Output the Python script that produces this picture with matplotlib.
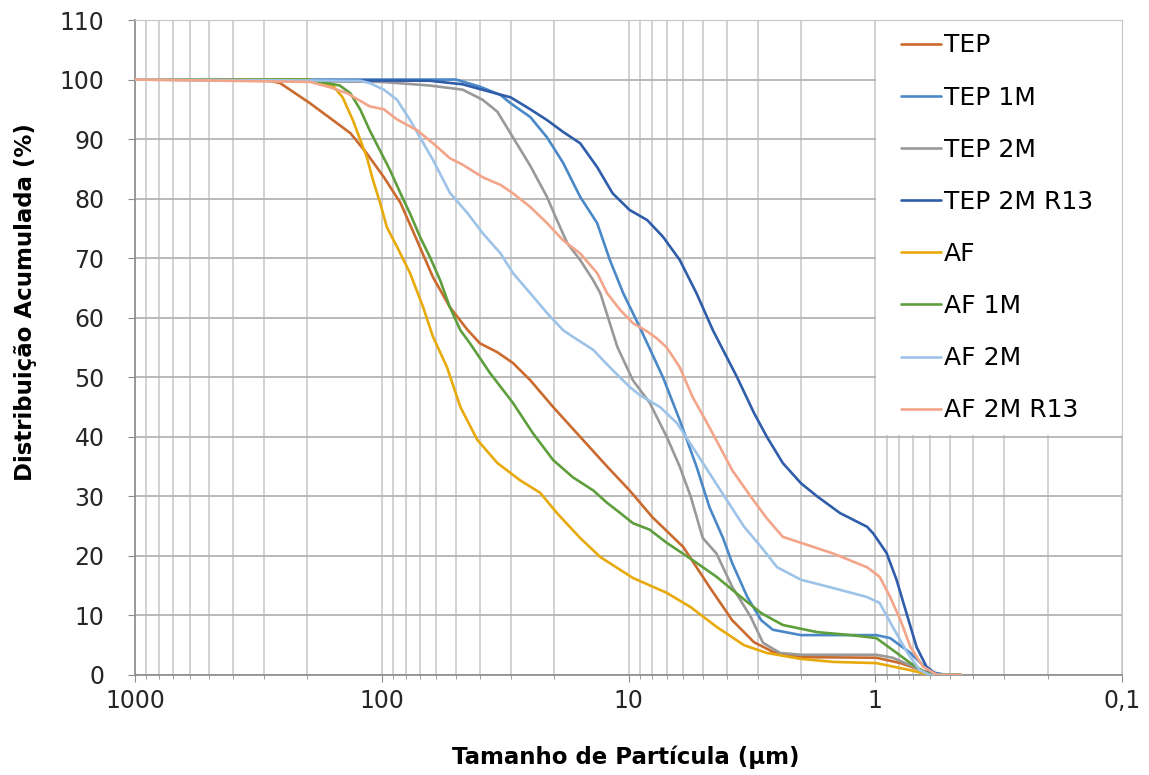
import matplotlib.pyplot as plt
from matplotlib.patches import Rectangle
from matplotlib.ticker import FixedLocator, LogLocator, NullFormatter

# tamanho de partícula (µm) e distribuição acumulada (%) de cada amostra
tep_x = [1000, 300, 258, 195, 158, 134, 115, 98, 84, 72, 62, 53, 45, 40, 34, 29.4, 25, 20.2,
         15.7, 12.2, 9.9, 8.0, 6.0, 4.7, 3.8, 3.1, 2.6, 2.0, 0.99, 0.79, 0.6, 0.51, 0.45]
tep_y = [100, 100, 99.4, 96, 93.2, 91, 87.6, 83.6, 79.3, 73, 66.8, 61.8, 58, 55.7, 54.2, 52.4,
         49.5, 45, 40, 35, 31, 26.5, 21.5, 14.8, 9.2, 5.5, 3.9, 3.0, 2.9, 2.0, 0.3, 0, 0]

tep1m_x = [1000, 50, 40, 33, 30, 25, 21.4, 18.4, 15.7, 13.4, 11.9, 10.5, 9, 7.25, 6.2, 5.3,
           4.7, 4.14, 3.8, 3.3, 2.9, 2.6, 2.0, 0.99, 0.87, 0.72, 0.6, 0.51, 0.45]
tep1m_y = [100, 100, 98.8, 97.4, 96, 93.7, 90.3, 86, 80.3, 75.9, 69.7, 64.1, 58.4, 50, 42.8,
           35, 28.2, 23, 18.8, 13.1, 9.2, 7.6, 6.7, 6.7, 6.2, 3.7, 0.5, 0, 0]

tep2m_x = [1000, 100, 64, 47, 39, 34, 29.4, 25, 21.4, 19.5, 17.7, 15.7, 13.9, 13, 11.1, 9.6,
           8.2, 7.0, 6.2, 5.6, 5.0, 4.4, 3.8, 3.2, 2.85, 2.43, 2.0, 0.99, 0.85, 0.70, 0.6, 0.45]
tep2m_y = [100, 99.6, 99, 98.3, 96.6, 94.6, 90.3, 85.5, 80.3, 76.4, 72.5, 69.7, 66.3, 64.1,
           55.1, 49.5, 45.7, 40, 35, 30, 23, 20.4, 14.8, 9.8, 5.4, 3.7, 3.4, 3.4, 2.9, 1.4, 0, 0]

tep2mr_x = [1000, 64, 47, 40, 30, 25, 21.4, 18.4, 15.7, 13.4, 11.6, 9.9, 8.4, 7.25, 6.2, 5.3,
            4.55, 3.63, 3.1, 2.75, 2.37, 2.0, 1.72, 1.39, 1.08, 1.02, 0.90, 0.82, 0.74, 0.68,
            0.62, 0.56, 0.45]
tep2mr_y = [100, 99.8, 99.2, 98.4, 97, 95, 93.2, 91.2, 89.3, 85.3, 80.9, 78.1, 76.4, 73.6,
            69.7, 64.1, 57.9, 50, 44, 40, 35.6, 32.2, 30, 27.2, 24.9, 23.8, 20.5, 16, 9.8, 4.7,
            1.4, 0, 0]

af_x = [1000, 200, 158, 144, 131, 122, 115, 108.5, 101.6, 95.3, 86.7, 76.8, 68, 62, 54.4, 48,
        41, 34, 27.5, 22.8, 19.5, 15.7, 13, 9.6, 7.0, 5.6, 4.4, 3.4, 2.75, 2.0, 1.48, 0.99,
        0.72, 0.6, 0.45]
af_y = [100, 100, 99, 97, 93.2, 89.8, 87, 83.1, 79.3, 75.2, 71.9, 67.5, 61.8, 56.8, 51.7, 45,
        39.5, 35.6, 32.7, 30.6, 27.2, 23, 19.8, 16.3, 13.8, 11.4, 8.1, 5, 3.7, 2.7, 2.2, 2.0,
        0.8, 0, 0]

af1m_x = [1000, 200, 148, 134, 122, 112, 102, 92.6, 84, 77, 70, 63.8, 58, 53, 48, 43.9, 36.4,
          29.4, 24.4, 20.2, 16.8, 13.9, 12.2, 10.8, 9.6, 8.2, 7.0, 5.5, 4.4, 3.5, 2.9, 2.37,
          1.72, 1.26, 0.99, 0.85, 0.72, 0.62, 0.55, 0.45]
af1m_y = [100, 100, 99, 97.7, 94.9, 91.5, 88.2, 84.8, 80.9, 77.6, 73.6, 70.2, 66.3, 61.8,
          57.9, 55.7, 50.7, 45.7, 40.6, 36.1, 33.2, 31, 28.9, 27.2, 25.5, 24.4, 22.2, 19.3,
          16.5, 13.1, 10.4, 8.4, 7.2, 6.7, 6.2, 4.2, 2.0, 0.3, 0, 0]

af2m_x = [1000, 122, 112, 98, 86.7, 76.8, 70, 62, 53, 45, 39, 33, 29.4, 25, 21.4, 18.4, 16.8,
          13.9, 11.6, 9.9, 9, 7.45, 6.36, 5.5, 4.7, 4.0, 3.4, 2.9, 2.5, 2.0, 1.48, 1.08, 0.96,
          0.85, 0.74, 0.66, 0.6, 0.45]
af2m_y = [100, 99.8, 99.4, 98.3, 96.6, 93.2, 90.3, 86.5, 81, 77.6, 74.2, 70.8, 67.5, 64.1,
          60.8, 57.9, 56.8, 54.6, 51.2, 48.4, 47, 45, 42.3, 38.3, 33.9, 29.4, 24.9, 21.5, 18.1,
          16, 14.6, 13.1, 12.1, 8.1, 3.7, 0.8, 0, 0]

af2mr_x = [1000, 195, 162, 138, 112, 98, 86.7, 72, 62, 53, 47, 39, 33, 29.4, 25, 21.4, 18.4,
           15.7, 13.4, 12.2, 10.8, 9.6, 8.4, 7.66, 7.0, 6.2, 5.5, 4.8, 4.26, 3.8, 3.2, 2.75,
           2.37, 2.0, 1.48, 1.08, 0.96, 0.87, 0.79, 0.72, 0.64, 0.56, 0.45]
af2mr_y = [100, 99.6, 98.7, 97.7, 95.5, 95, 93.3, 91.5, 89.3, 86.8, 85.7, 83.6, 82.3, 80.9,
           78.6, 75.9, 73, 70.8, 67.5, 64.1, 61.3, 59.1, 57.7, 56.5, 55, 51.7, 46.7, 42.3, 38.3,
           34.4, 30, 26.3, 23.2, 22.2, 20.4, 18.1, 16.5, 13.1, 9.2, 4.7, 1.4, 0, 0]

labels = ["TEP", "TEP 1M", "TEP 2M", "TEP 2M R13", "AF", "AF 1M", "AF 2M", "AF 2M R13"]
colors = ["#CB6A2E", "#4A88C7", "#999999", "#2F5DAA", "#E8AA0B", "#5E9E3C", "#9EC3E8", "#F3A58A"]
series = [(tep_x, tep_y), (tep1m_x, tep1m_y), (tep2m_x, tep2m_y), (tep2mr_x, tep2mr_y),
          (af_x, af_y), (af1m_x, af1m_y), (af2m_x, af2m_y), (af2mr_x, af2mr_y)]

x_ticks = [1000, 100, 10, 1, 0.1]
x_ticklabels = ["1000", "100", "10", "1", "0,1"]
y_ticks = list(range(0, 111, 10))

fig = plt.figure(figsize=(11.49, 7.75), dpi=100)
ax = fig.add_axes([135 / 1149, 100 / 775, 987 / 1149, 655 / 775])

for (x, y), lab, col in zip(series, labels, colors):
    ax.plot(x, y, color=col, lw=1.9, label=lab, zorder=3, solid_capstyle="round")

ax.set_xscale("log")
ax.set_xlim(1000, 0.1)
ax.set_ylim(0, 110)
ax.xaxis.set_major_locator(FixedLocator(x_ticks))
ax.set_xticklabels(x_ticklabels)
ax.xaxis.set_minor_locator(LogLocator(base=10, subs=range(2, 10)))
ax.xaxis.set_minor_formatter(NullFormatter())
ax.set_yticks(y_ticks)

ax.grid(True, which="both", axis="x", color="#c6c6c6", lw=1.1)
ax.grid(True, which="major", axis="y", color="#b4b4b4", lw=1.3)
ax.set_axisbelow(True)
for side in ["top", "right"]:
    ax.spines[side].set_color("#c6c6c6")
for side in ["left", "bottom"]:
    ax.spines[side].set_color("#8c8c8c")
    ax.spines[side].set_linewidth(1.2)

ax.tick_params(axis="x", which="major", labelsize=17, colors="#8c8c8c",
               labelcolor="#262626", length=5, pad=5)
ax.tick_params(axis="y", which="major", labelsize=17, colors="#8c8c8c",
               labelcolor="#262626", length=5, pad=17)
ax.tick_params(axis="x", which="minor", colors="#8c8c8c", length=3)

ax.set_xlabel("Tamanho de Partícula (µm)", fontsize=16.5, fontweight="bold")
ax.set_ylabel("Distribuição Acumulada (%)", fontsize=16.5, fontweight="bold")
ax.xaxis.set_label_coords(0.497, -0.108)
ax.yaxis.set_label_coords(-0.099, 0.569)

# área branca da legenda por cima da grelha
ax.add_patch(Rectangle((0.7505, 0.366), 0.2495, 0.634, transform=ax.transAxes,
                       facecolor="white", edgecolor="none", zorder=2.5))
ax.legend(loc="upper left", bbox_to_anchor=(888 / 1149, 1 - 21 / 775),
          bbox_transform=fig.transFigure, frameon=False, fontsize=18, borderpad=0,
          handlelength=1.6, handletextpad=0.12, labelspacing=1.125)

plt.savefig("out.png", dpi=100)
plt.close()
